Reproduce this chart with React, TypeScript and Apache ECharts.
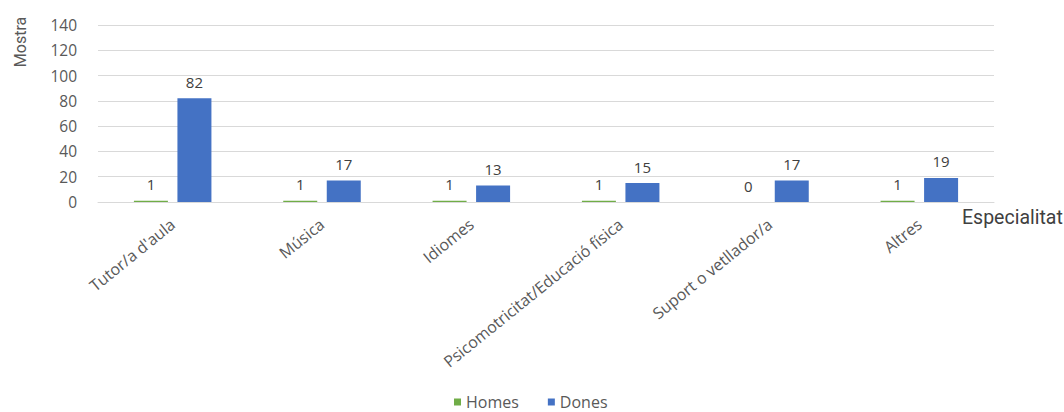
import React, { useEffect, useRef } from "react";
import * as echarts from "echarts";

const categories = [
  "Tutor/a d'aula",
  "Música",
  "Idiomes",
  "Psicomotricitat/Educació física",
  "Suport o vetllador/a",
  "Altres",
];
const homes = [1, 1, 1, 1, 0, 1];
const dones = [82, 17, 13, 15, 17, 19];
const yTicks = { min: 0, max: 140, interval: 20 };

export default function App() {
  const ref = useRef<HTMLDivElement>(null);
  useEffect(() => {
    if (!ref.current) return;
    const chart = echarts.init(ref.current, null, { renderer: "svg" });
    const font = "'Open Sans', sans-serif";
    const labelStyle = {
      show: true,
      position: "top" as const,
      distance: 9,
      color: "#404040",
      fontSize: 15,
      fontFamily: font,
    };
    chart.setOption({
      animation: false,
      backgroundColor: "#ffffff",
      grid: { left: 98, right: 70, top: 25, bottom: 210, containLabel: false },
      legend: {
        data: ["Homes", "Dones"],
        left: 449,
        top: 389,
        itemWidth: 7,
        itemHeight: 7,
        itemGap: 29,
        icon: "rect",
        textStyle: { color: "#595959", fontSize: 16, fontFamily: font },
      },
      xAxis: {
        type: "category",
        data: categories,
        axisLine: { lineStyle: { color: "#d9d9d9" } },
        axisTick: { show: false },
        axisLabel: {
          rotate: 39,
          color: "#595959",
          fontSize: 16,
          fontFamily: font,
          interval: 0,
          margin: 20,
        },
      },
      yAxis: {
        type: "value",
        min: yTicks.min,
        max: yTicks.max,
        interval: yTicks.interval,
        axisLine: { show: false },
        axisTick: { show: false },
        splitLine: { lineStyle: { color: "#d9d9d9" } },
        axisLabel: {
          color: "#595959",
          fontSize: 15.5,
          fontFamily: font,
          margin: 21,
        },
      },
      graphic: [
        {
          type: "text",
          x: 20,
          y: 42,
          rotation: Math.PI / 2,
          style: {
            text: "Mostra",
            fill: "#595959",
            fontSize: 16,
            fontFamily: "Roboto, sans-serif",
            align: "center",
            verticalAlign: "middle",
          },
        },
        {
          type: "text",
          x: 962,
          y: 217,
          style: {
            text: "Especialitat",
            fill: "#404040",
            fontSize: 19.5,
            fontFamily: "Roboto, sans-serif",
            align: "left",
            verticalAlign: "middle",
          },
        },
      ],
      series: [
        {
          name: "Homes",
          type: "bar",
          data: homes,
          barWidth: 34,
          barGap: "28%",
          itemStyle: { color: "#70ad47" },
          label: { ...labelStyle },
        },
        {
          name: "Dones",
          type: "bar",
          data: dones,
          barWidth: 34,
          itemStyle: { color: "#4472c4" },
          label: { ...labelStyle },
        },
      ],
    });
    return () => chart.dispose();
  }, []);
  return (
    <div
      ref={ref}
      style={{ position: "absolute", left: 0, top: 0, width: 1064, height: 412 }}
    />
  );
}
